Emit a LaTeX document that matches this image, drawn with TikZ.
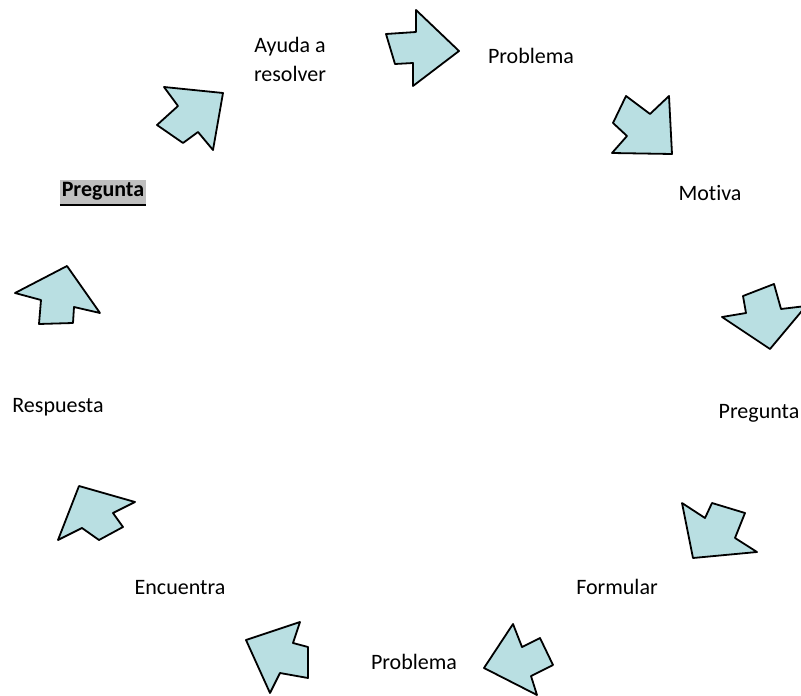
\documentclass[tikz,border=0pt]{standalone}
\usepackage{fontspec}
\setmainfont{Carlito}[Ligatures={NoCommon}]
\begin{document}
\begin{tikzpicture}[x=1pt,y=-1pt,
  blockarrow/.style={draw=black,line width=1.8pt,fill=arrowfill,line join=round},
  lbl/.style={font=\fontsize{22}{29}\selectfont,inner sep=0pt,align=center}]
\definecolor{arrowfill}{RGB}{185,223,226}
\definecolor{hlgray}{RGB}{191,191,191}
\useasboundingbox (0,0) rectangle (801,696);
% arrows
\draw[blockarrow] (386,34) -- (416,32) -- (416,10) -- (459,51) -- (413,86) -- (413,63) -- (395,64) -- cycle;
\draw[blockarrow] (626,96) -- (650,114) -- (669,96) -- (672,154) -- (612,153) -- (627,136) -- (613,123) -- cycle;
\draw[blockarrow] (743,296) -- (774,284) -- (781,309) -- (806,306) -- (770,349) -- (722,317) -- (746,313) -- cycle;
\draw[blockarrow] (682,503) -- (705,518) -- (712,503) -- (745,513) -- (735,538) -- (757,552) -- (693,558) -- cycle;
\draw[blockarrow] (513,624) -- (522,647) -- (540,638) -- (553,665) -- (531,676) -- (537,695) -- (484,668) -- cycle;
\draw[blockarrow] (300,622) -- (293,643) -- (308,647) -- (308,678) -- (280,673) -- (270,693) -- (246,640) -- cycle;
\draw[blockarrow] (79,486) -- (135,502) -- (113,513) -- (123,527) -- (99,540) -- (82,528) -- (58,540) -- cycle;
\draw[blockarrow] (15,293) -- (67,266) -- (100,313) -- (74,307) -- (73,323) -- (39,324) -- (41,300) -- cycle;
\draw[blockarrow] (164,87) -- (223,93) -- (213,150) -- (198,132) -- (183,143) -- (157,125) -- (178,106) -- cycle;
% labels
\node[lbl] (ayuda) at (290,59) {Ayuda a\\resolver};
\node[lbl] (prob1) at (531,56) {Problema};
\node[lbl] (motiva) at (710,193) {Motiva};
\node[lbl] (preg2) at (759,413) {Pregunta};
\node[lbl] (formular) at (617,587) {Formular};
\node[lbl] (prob2) at (414,662) {Problema};
\node[lbl] (encuentra) at (180,588) {Encuentra};
\node[lbl] (respuesta) at (58,407) {Respuesta};
\node[lbl,fill=hlgray,minimum width=86pt,minimum height=24pt,font=\fontsize{22}{29}\selectfont\bfseries] (preg1) at (103,191.5) {Pregunta};
\draw[line width=2.4pt] ([yshift=-1.2pt]preg1.south west) -- ([yshift=-1.2pt]preg1.south east);
\end{tikzpicture}
\end{document}
